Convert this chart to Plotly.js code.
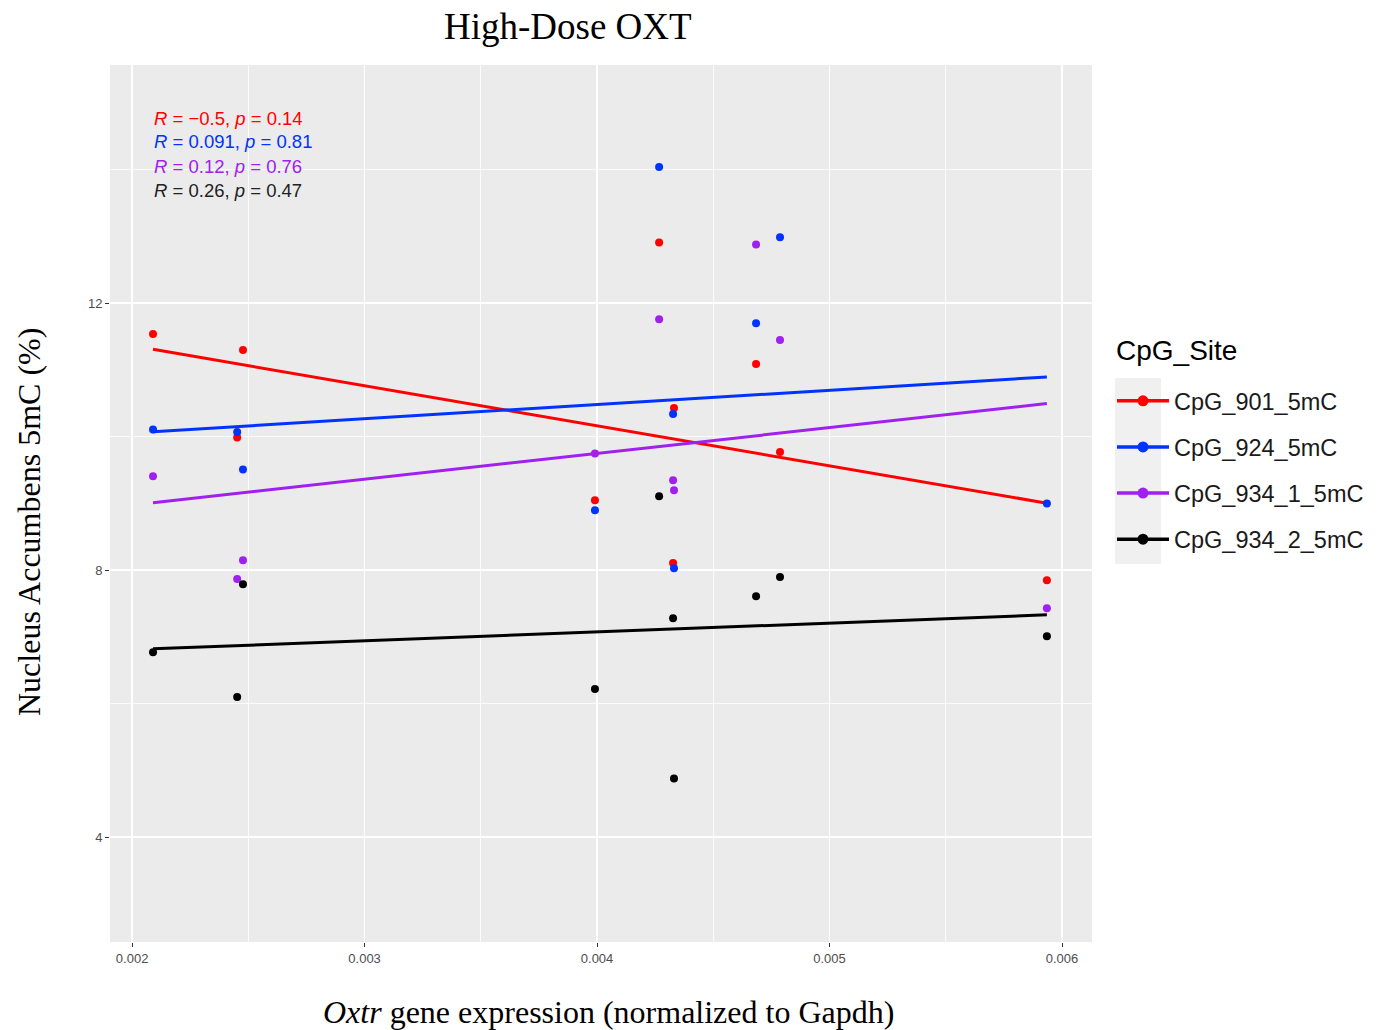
<!DOCTYPE html>
<html>
<head>
<meta charset="utf-8">
<script src="https://cdn.plot.ly/plotly-3.0.1.min.js"></script>
<style>html,body{margin:0;padding:0;background:#fff;}#chart{width:1382px;height:1030px;}</style>
</head>
<body>
<div id="chart"></div>
<script>
// Oxtr expression per sample (x)
const oxtr = [0.00209, 0.002452, 0.002477, 0.003991, 0.004267, 0.004327, 0.004331, 0.004684, 0.004787, 0.005935];
// Nucleus Accumbens 5mC (%) per CpG site
const cpg901 = [11.54, 9.99, 11.30, 9.05, 12.91, 8.11, 10.43, 11.09, 9.77, 7.85];
const cpg924 = [10.11, 10.07, 9.51, 8.90, 14.04, 10.34, 8.03, 11.70, 12.99, 9.00];
const cpg934_1 = [9.41, 7.87, 8.15, 9.75, 11.76, 9.35, 9.20, 12.88, 11.45, 7.43];
const cpg934_2 = [6.77, 6.10, 7.79, 6.22, 9.11, 7.28, 4.88, 7.61, 7.90, 7.01];
const siteNames = ["CpG_901_5mC", "CpG_924_5mC", "CpG_934_1_5mC", "CpG_934_2_5mC"];
const siteColors = ["#FF0000", "#0033FF", "#A020F0", "#000000"];
const statsR = ["\u22120.5", "0.091", "0.12", "0.26"];
const statsP = ["0.14", "0.81", "0.76", "0.47"];
const xTicks = [0.002, 0.003, 0.004, 0.005, 0.006];
const yTicks = [4, 8, 12];

const series = [cpg901, cpg924, cpg934_1, cpg934_2];

function lm(xs, ys) {
  const n = xs.length;
  const mx = xs.reduce((a, b) => a + b, 0) / n;
  const my = ys.reduce((a, b) => a + b, 0) / n;
  let sxy = 0, sxx = 0;
  for (let i = 0; i < n; i++) { sxy += (xs[i] - mx) * (ys[i] - my); sxx += (xs[i] - mx) ** 2; }
  const b = sxy / sxx;
  return { b: b, a: my - b * mx };
}

const traces = [];
const xmin = Math.min(...oxtr), xmax = Math.max(...oxtr);
series.forEach((ys, i) => {
  const f = lm(oxtr, ys);
  traces.push({
    x: [xmin, xmax], y: [f.a + f.b * xmin, f.a + f.b * xmax],
    mode: 'lines', type: 'scatter', line: { color: siteColors[i], width: 3 },
    showlegend: false, hoverinfo: 'skip'
  });
});
series.forEach((ys, i) => {
  traces.push({
    x: oxtr, y: ys, mode: 'markers', type: 'scatter',
    marker: { color: siteColors[i], size: 8 },
    showlegend: false
  });
});
series.forEach((ys, i) => {
  traces.push({
    x: [null], y: [null], mode: 'lines+markers', type: 'scatter',
    name: siteNames[i], legendgroup: 'g' + i,
    line: { color: siteColors[i], width: 3.5 },
    marker: { color: siteColors[i], size: 11 }
  });
});

const L = 110, R = 1092, T = 65, B = 942;
const pw = R - L, ph = B - T;
const px = v => (v - L) / pw;
const py = v => (B - v) / ph;

const annotations = [];
const rowY = [118, 142, 166, 190];
series.forEach((ys, i) => {
  annotations.push({
    xref: 'paper', yref: 'paper', x: px(152), y: py(rowY[i]),
    xanchor: 'left', yanchor: 'middle', showarrow: false,
    text: '<i>R</i> = ' + statsR[i] + ', <i>p</i> = ' + statsP[i],
    font: { family: 'Liberation Sans, Arial, sans-serif', size: 18.5, color: siteColors[i] === '#000000' ? '#222222' : siteColors[i] }
  });
});
annotations.push({
  xref: 'paper', yref: 'paper', x: px(568), y: py(27), xanchor: 'center', yanchor: 'middle',
  showarrow: false, text: 'High-Dose OXT',
  font: { family: 'Liberation Serif, Times New Roman, serif', size: 37, color: '#000' }
});
annotations.push({
  xref: 'paper', yref: 'paper', x: px(29), y: py(522), xanchor: 'center', yanchor: 'middle',
  showarrow: false, textangle: -90, text: 'Nucleus Accumbens 5mC (%)',
  font: { family: 'Liberation Serif, Times New Roman, serif', size: 32, color: '#000' }
});
annotations.push({
  xref: 'paper', yref: 'paper', x: px(608), y: py(1012), xanchor: 'center', yanchor: 'middle',
  showarrow: false, text: '<i>Oxtr</i> gene expression (normalized to Gapdh)',
  font: { family: 'Liberation Serif, Times New Roman, serif', size: 32, color: '#000' }
});
annotations.push({
  xref: 'paper', yref: 'paper', x: px(1114), y: py(350), xanchor: 'left', yanchor: 'middle',
  showarrow: false, text: 'CpG_Site',
  font: { family: 'Liberation Sans, Arial, sans-serif', size: 28, color: '#000' }
});

const layout = {
  width: 1382, height: 1030,
  margin: { l: L, r: 1382 - R, t: T, b: 1030 - B, pad: 0 },
  paper_bgcolor: '#FFFFFF', plot_bgcolor: '#EBEBEB',
  showlegend: true,
  xaxis: {
    range: [0.001905, 0.006129], tickvals: xTicks, ticktext: xTicks.map(v => v.toFixed(3)),
    showgrid: true, gridcolor: '#FFFFFF', gridwidth: 1.6, zeroline: false, showline: false,
    ticks: 'outside', ticklen: 4, tickcolor: '#333333', tickwidth: 1,
    tickfont: { family: 'Liberation Sans, Arial, sans-serif', size: 13, color: '#4D4D4D' },
    minor: { dtick: 0.0005, tick0: 0.0015, showgrid: true, gridcolor: '#FFFFFF', gridwidth: 0.8, ticks: '' }
  },
  yaxis: {
    range: [2.43, 15.57], tickvals: yTicks, ticktext: yTicks.map(String),
    showgrid: true, gridcolor: '#FFFFFF', gridwidth: 1.6, zeroline: false, showline: false,
    ticks: 'outside', ticklen: 4, tickcolor: '#333333', tickwidth: 1,
    tickfont: { family: 'Liberation Sans, Arial, sans-serif', size: 13, color: '#4D4D4D' },
    minor: { dtick: 2, tick0: 0, showgrid: true, gridcolor: '#FFFFFF', gridwidth: 0.8, ticks: '' }
  },
  legend: {
    x: px(1112), y: py(379), xanchor: 'left', yanchor: 'top',
    bgcolor: 'rgba(0,0,0,0)', borderwidth: 0, tracegroupgap: 12.6,
    font: { family: 'Liberation Sans, Arial, sans-serif', size: 23.5, color: '#1a1a1a' },
    itemwidth: 52
  },
  shapes: [{
    type: 'rect', xref: 'paper', yref: 'paper', x0: px(1115), x1: px(1161), y0: py(378), y1: py(564),
    fillcolor: '#F0F0F0', line: { width: 0 }, layer: 'below'
  }],
  annotations: annotations
};

Plotly.newPlot('chart', traces, layout, { displayModeBar: false, staticPlot: true });
</script>
</body>
</html>
